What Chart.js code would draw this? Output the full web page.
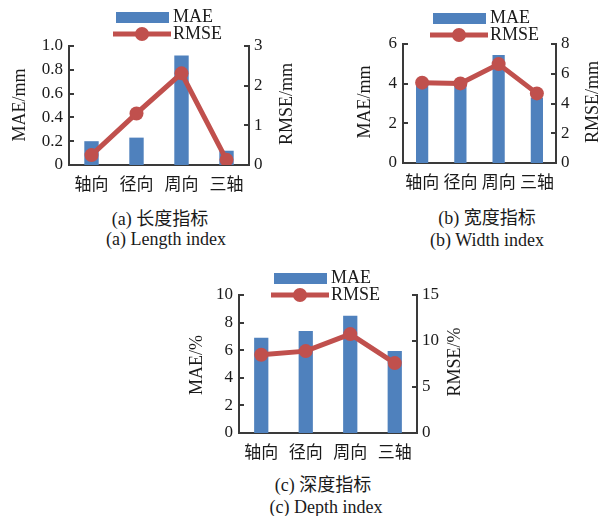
<!DOCTYPE html>
<html>
<head>
<meta charset="utf-8">
<script src="https://cdn.jsdelivr.net/npm/chart.js@4"></script>
<style>
  body { margin: 0; background: #fff; width: 608px; height: 516px; position: relative; overflow: hidden;
         font-family: "Liberation Serif", "Noto Sans CJK SC", serif; color: #1a1a1a; }
  .box { position: absolute; }
  .cap { position: absolute; font-size: 18px; white-space: nowrap; transform: translate(-50%, -50%); }
</style>
</head>
<body>
<div class="box" style="left:0;top:0;width:300px;height:200px"><canvas id="chartA"></canvas></div>
<div class="box" style="left:300px;top:0;width:308px;height:200px"><canvas id="chartB"></canvas></div>
<div class="box" style="left:170px;top:260px;width:300px;height:205px"><canvas id="chartC"></canvas></div>

<div class="cap" style="left:160px;top:217px">(a) 长度指标</div>
<div class="cap" style="left:166px;top:239px">(a) Length index</div>
<div class="cap" style="left:487px;top:216px">(b) 宽度指标</div>
<div class="cap" style="left:487px;top:240px">(b) Width index</div>
<div class="cap" style="left:323px;top:483px">(c) 深度指标</div>
<div class="cap" style="left:326px;top:507px">(c) Depth index</div>

<script>
/* ─── Data ───────────────────────────────────────────────── */
const categories = ['轴向', '径向', '周向', '三轴'];

const lengthMae  = [0.20, 0.23, 0.92, 0.12];
const lengthRmse = [0.25, 1.30, 2.31, 0.13];
const widthMae   = [4.0, 4.0, 5.44, 3.3];
const widthRmse  = [5.4, 5.35, 6.65, 4.68];
const depthMae   = [6.9, 7.4, 8.5, 5.95];
const depthRmse  = [8.5, 8.9, 10.75, 7.6];

const lengthMaeTicks  = ['0', '0.2', '0.4', '0.6', '0.8', '1.0'];
const lengthRmseTicks = ['0', '1', '2', '3'];
const widthMaeTicks   = ['0', '2', '4', '6'];
const widthRmseTicks  = ['0', '2', '4', '6', '8'];
const depthMaeTicks   = ['0', '2', '4', '6', '8', '10'];
const depthRmseTicks  = ['0', '5', '10', '15'];

/* ─── Style ──────────────────────────────────────────────── */
const BLUE  = '#4f81bd';
const RED   = '#c0504d';
const AXIS  = '#3a3a3a';
const TXT   = '#1a1a1a';
const SERIF = '"Liberation Serif", "Times New Roman", serif';
const CJK   = '"Noto Sans CJK SC", sans-serif';

/* ─── Legend, inward ticks, axis titles ──────────────────── */
const decor = {
  id: 'decor',
  afterDraw(chart, args, o) {
    const ctx = chart.ctx;
    const { left, right } = chart.chartArea;
    ctx.save();

    ctx.strokeStyle = AXIS;
    ctx.lineWidth = 2;
    [['y', left, 1], ['y1', right, -1]].forEach(([id, x0, dir]) => {
      const s = chart.scales[id];
      s.ticks.forEach(t => {
        const py = Math.round(s.getPixelForValue(t.value));
        ctx.beginPath();
        ctx.moveTo(x0, py);
        ctx.lineTo(x0 + dir * 5, py);
        ctx.stroke();
      });
    });

    ctx.fillStyle = TXT;
    ctx.font = '18px ' + SERIF;
    ctx.textAlign = 'center';
    ctx.textBaseline = 'middle';
    o.titles.forEach(t => {
      ctx.save();
      ctx.translate(t.x, t.y);
      ctx.rotate(-Math.PI / 2);
      ctx.fillText(t.text, 0, 0);
      ctx.restore();
    });

    const lx = o.legend.x, ly = o.legend.y;
    const ds = chart.data.datasets;
    const bar = ds.find(d => d.type === 'bar');
    const line = ds.find(d => d.type === 'line');
    ctx.fillStyle = bar.backgroundColor;
    ctx.fillRect(lx, ly, 53, 11);
    ctx.strokeStyle = line.borderColor;
    ctx.lineWidth = 5;
    ctx.beginPath();
    ctx.moveTo(lx - 3, ly + 22);
    ctx.lineTo(lx + 55, ly + 22);
    ctx.stroke();
    ctx.fillStyle = line.borderColor;
    ctx.beginPath();
    ctx.arc(lx + 26, ly + 22, 7, 0, Math.PI * 2);
    ctx.fill();
    ctx.fillStyle = TXT;
    ctx.textAlign = 'left';
    ctx.fillText(bar.label, lx + 57, ly + 5);
    ctx.fillText(line.label, lx + 57, ly + 22);
    ctx.restore();
  }
};

function axisFromTicks(labels, position, width, pad) {
  return {
    type: 'linear',
    position,
    min: parseFloat(labels[0]),
    max: parseFloat(labels[labels.length - 1]),
    afterBuildTicks: s => { s.ticks = labels.map(v => ({ value: parseFloat(v) })); },
    afterFit: s => { s.width = width; },
    grid: { display: false, drawTicks: false },
    border: { display: true, color: AXIS, width: 2 },
    ticks: {
      padding: pad, color: TXT, autoSkip: false,
      font: { family: SERIF, size: 17 },
      callback: (v, i) => labels[i]
    }
  };
}

function makeChart(id, mae, rmse, maeTicks, rmseTicks, g) {
  return new Chart(document.getElementById(id), {
    data: {
      labels: categories,
      datasets: [
        {
          type: 'line', label: 'RMSE', data: rmse, yAxisID: 'y1', order: 0,
          borderColor: RED, backgroundColor: RED, borderWidth: 5, tension: 0,
          pointRadius: 7, pointBorderWidth: 0, pointBackgroundColor: RED
        },
        {
          type: 'bar', label: 'MAE', data: mae, yAxisID: 'y', order: 1,
          backgroundColor: BLUE, barPercentage: 0.32, categoryPercentage: 1
        }
      ]
    },
    options: {
      responsive: true,
      maintainAspectRatio: false,
      animation: false,
      layout: { padding: { top: g.top, left: 0, right: 0, bottom: 0 } },
      scales: {
        x: {
          type: 'category',
          grid: { display: false, drawTicks: false },
          border: { display: true, color: AXIS, width: 2 },
          ticks: { padding: 8, color: TXT, maxRotation: 0, autoSkip: false, font: { family: CJK, size: 17 } },
          afterFit: s => { s.height = g.xH; }
        },
        y: axisFromTicks(maeTicks, 'left', g.leftW, 6),
        y1: axisFromTicks(rmseTicks, 'right', g.rightW, 5)
      },
      plugins: {
        legend: { display: false },
        tooltip: { enabled: false },
        decor: { legend: g.legend, titles: g.titles }
      }
    },
    plugins: [decor]
  });
}

/* ─── Init ───────────────────────────────────────────────── */
makeChart('chartA', lengthMae, lengthRmse, lengthMaeTicks, lengthRmseTicks, {
  top: 46, leftW: 69, rightW: 51, xH: 35,
  legend: { x: 116, y: 12 },
  titles: [{ text: 'MAE/mm', x: 20, y: 105 }, { text: 'RMSE/mm', x: 287, y: 104 }]
});
makeChart('chartB', widthMae, widthRmse, widthMaeTicks, widthRmseTicks, {
  top: 44, leftW: 103, rightW: 52, xH: 37,
  legend: { x: 133, y: 13 },
  titles: [{ text: 'MAE/mm', x: 65, y: 102 }, { text: 'RMSE/mm', x: 293, y: 102 }]
});
makeChart('chartC', depthMae, depthRmse, depthMaeTicks, depthRmseTicks, {
  top: 35, leftW: 69, rightW: 53, xH: 32,
  legend: { x: 104, y: 13 },
  titles: [{ text: 'MAE/%', x: 27, y: 105 }, { text: 'RMSE/%', x: 285, y: 102 }]
});
</script>
</body>
</html>
